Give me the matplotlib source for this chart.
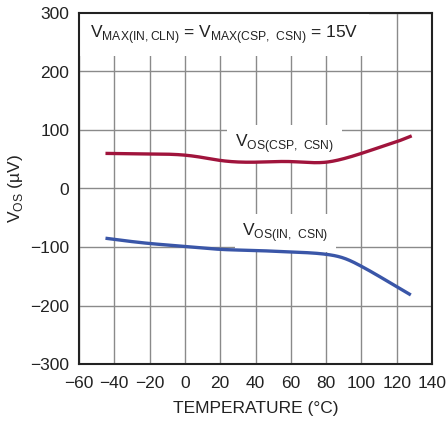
import matplotlib
matplotlib.use("Agg")
import matplotlib.pyplot as plt
import numpy as np

plt.rcParams['font.family'] = ['Liberation Sans Narrow', 'Liberation Sans', 'DejaVu Sans']

temp_csp = [-45, -20, 0, 10, 20, 40, 60, 80, 90, 100, 110, 120, 128.5]
vos_csp = [60, 59, 57, 53, 48, 45, 46, 45, 51, 60, 70, 80, 90]

temp_in = [-45, -20, 0, 20, 40, 60, 80, 90, 100, 110, 120, 128]
vos_in = [-85, -94, -99, -104, -106, -108.5, -112.5, -119, -133, -150, -168, -182]

xticks = [-60, -40, -20, 0, 20, 40, 60, 80, 100, 120, 140]
yticks = [-300, -200, -100, 0, 100, 200, 300]

red = '#A0143C'
blue = '#3A56A8'

def smooth(x, y, n=400):
    # natural cubic spline through the read points
    x = np.asarray(x, float); y = np.asarray(y, float)
    N = len(x); h = np.diff(x)
    A = np.zeros((N, N)); b = np.zeros(N)
    A[0, 0] = 1; A[-1, -1] = 1
    for i in range(1, N - 1):
        A[i, i-1] = h[i-1]; A[i, i] = 2*(h[i-1] + h[i]); A[i, i+1] = h[i]
        b[i] = 6*((y[i+1]-y[i])/h[i] - (y[i]-y[i-1])/h[i-1])
    M = np.linalg.solve(A, b)
    xs = np.linspace(x[0], x[-1], n)
    idx = np.clip(np.searchsorted(x, xs) - 1, 0, N - 2)
    hi = h[idx]; a = x[idx+1] - xs; c = xs - x[idx]
    ys = (M[idx]*a**3 + M[idx+1]*c**3)/(6*hi) + (y[idx]/hi - M[idx]*hi/6)*a + (y[idx+1]/hi - M[idx+1]*hi/6)*c
    return xs, ys

fig = plt.figure(figsize=(4.48, 4.23), dpi=100)
ax = fig.add_axes([79/448, 1 - 364/423, (432-79)/448, (364-13)/423])

ax.set_xlim(-60, 140)
ax.set_ylim(-300, 300)
ax.set_xticks(xticks)
ax.set_yticks(yticks)
ax.set_xticklabels([str(v).replace('-', '\u2212') for v in xticks])
ax.set_yticklabels([str(v).replace('-', '\u2212') for v in yticks])
ax.grid(True, color='#8a8a8a', linewidth=1.0)
ax.set_axisbelow(True)
ax.tick_params(length=0, labelsize=12.5, colors='#222222')
ax.tick_params(axis='x', pad=8.5)
ax.tick_params(axis='y', pad=7)
for s in ax.spines.values():
    s.set_linewidth(1.5)
    s.set_color('#222222')
    s.set_zorder(6)

xs, ys = smooth(temp_csp, vos_csp)
ax.plot(xs, ys, color=red, linewidth=2.4, zorder=5, solid_capstyle='butt')
xs, ys = smooth(temp_in, vos_in)
ax.plot(xs, ys, color=blue, linewidth=2.4, zorder=5, solid_capstyle='butt')

bbox = dict(facecolor='white', edgecolor='none', boxstyle='square,pad=0.45')
ax.text(0.03, 0.972, r'V$_{\mathregular{MAX(IN,CLN)}}$ = V$_{\mathregular{MAX(CSP,\ CSN)}}$ = 15V',
        transform=ax.transAxes, ha='left', va='top', fontsize=12.5, color='#222222',
        bbox=dict(facecolor='white', edgecolor='none', boxstyle='square,pad=0.6'), zorder=4)
ax.text(56.5, 76, r'V$_{\mathregular{OS(CSP,\ CSN)}}$', ha='center', va='center',
        fontsize=12.5, color='#222222', bbox=bbox, zorder=4)
ax.text(57, -76, r'V$_{\mathregular{OS(IN,\ CSN)}}$', ha='center', va='center',
        fontsize=12.5, color='#222222', bbox=bbox, zorder=4)

ax.set_xlabel('TEMPERATURE (°C)', fontsize=12.5, color='#222222', labelpad=7)
ax.set_ylabel(r'V$_{\mathregular{OS}}$ (µV)', fontsize=12.5, color='#222222', labelpad=4)

fig.savefig('out.png', dpi=100)
